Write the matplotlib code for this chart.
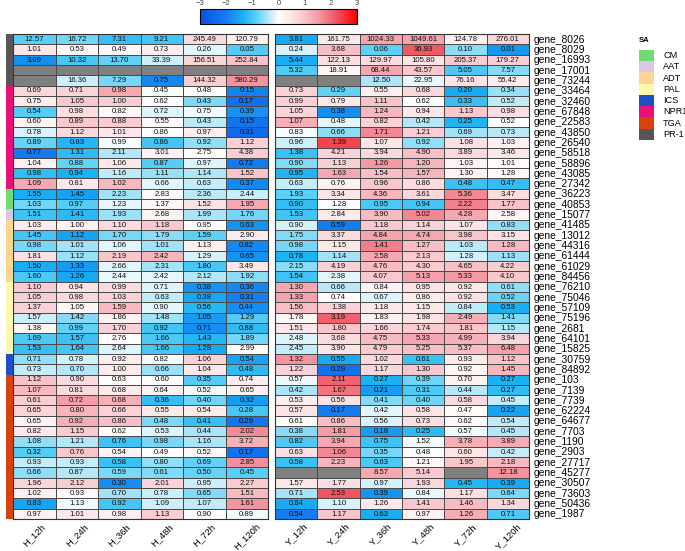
import numpy as np
import matplotlib
matplotlib.use("Agg")
import matplotlib.pyplot as plt
from matplotlib.colors import LinearSegmentedColormap, to_rgb

plt.rcParams['font.family'] = ['Liberation Sans', 'DejaVu Sans']

nan = np.nan
genes = ["gene_8026", "gene_8029", "gene_16993", "gene_17001", "gene_73244",
         "gene_33464", "gene_32460", "gene_67848", "gene_22583", "gene_43850",
         "gene_26540", "gene_58518", "gene_58896", "gene_43085", "gene_27342",
         "gene_36223", "gene_40853", "gene_15077", "gene_41485", "gene_13012",
         "gene_44316", "gene_61444", "gene_61029", "gene_84456", "gene_76210",
         "gene_75046", "gene_57109", "gene_75196", "gene_2681", "gene_64101",
         "gene_15825", "gene_30759", "gene_84892", "gene_103", "gene_7139",
         "gene_7739", "gene_62224", "gene_64677", "gene_7703", "gene_1190",
         "gene_2903", "gene_27717", "gene_45277", "gene_30507", "gene_73603",
         "gene_50436", "gene_1987"]

h_cols = ["H_12h", "H_24h", "H_36h", "H_48h", "H_72h", "H_120h"]
y_cols = ["Y_12h", "Y_24h", "Y_36h", "Y_48h", "Y_72h", "Y_120h"]

h_vals = [
    [12.57, 16.72, 7.31, 9.21, 245.49, 120.79],
    [1.01, 0.53, 0.49, 0.73, 0.26, 0.05],
    [3.09, 10.32, 13.70, 33.39, 156.51, 252.84],
    [nan, nan, nan, nan, nan, nan],
    [nan, 16.36, 7.29, 0.75, 144.32, 580.29],
    [0.69, 0.71, 0.98, 0.45, 0.48, 0.15],
    [0.75, 1.05, 1.00, 0.62, 0.43, 0.17],
    [0.54, 0.98, 0.82, 0.72, 0.75, 0.39],
    [0.60, 0.89, 0.88, 0.55, 0.43, 0.15],
    [0.78, 1.12, 1.01, 0.86, 0.97, 0.31],
    [0.89, 0.83, 0.99, 0.86, 0.92, 1.12],
    [0.77, 1.31, 2.11, 3.01, 2.75, 4.38],
    [1.04, 0.88, 1.06, 0.87, 0.97, 0.72],
    [0.98, 0.94, 1.16, 1.11, 1.14, 1.52],
    [1.09, 0.81, 1.02, 0.66, 0.63, 0.37],
    [1.55, 1.45, 2.23, 2.83, 2.36, 2.44],
    [1.03, 0.97, 1.23, 1.37, 1.52, 1.95],
    [1.51, 1.41, 1.93, 2.68, 1.99, 1.76],
    [1.03, 1.00, 1.10, 1.18, 0.95, 0.63],
    [1.45, 1.12, 1.70, 1.79, 1.59, 2.90],
    [0.98, 1.01, 1.06, 1.01, 1.13, 0.82],
    [1.81, 1.12, 2.19, 2.42, 1.29, 0.65],
    [1.50, 1.33, 2.66, 2.31, 1.80, 3.49],
    [1.60, 1.26, 2.44, 2.42, 2.12, 1.92],
    [1.10, 0.94, 0.99, 0.71, 0.38, 0.36],
    [1.05, 0.98, 1.03, 0.63, 0.38, 0.31],
    [1.37, 1.05, 1.59, 0.90, 0.56, 0.44],
    [1.57, 1.42, 1.86, 1.48, 1.05, 1.29],
    [1.38, 0.99, 1.70, 0.92, 0.71, 0.88],
    [1.69, 1.57, 2.76, 1.66, 1.43, 1.89],
    [1.53, 1.64, 2.64, 1.66, 1.28, 2.99],
    [0.71, 0.78, 0.92, 0.82, 1.06, 0.54],
    [0.73, 0.70, 1.00, 0.66, 1.04, 0.48],
    [1.12, 0.90, 0.63, 0.60, 0.35, 0.74],
    [1.07, 0.81, 0.68, 0.64, 0.52, 0.65],
    [0.61, 0.72, 0.68, 0.36, 0.40, 0.32],
    [0.65, 0.80, 0.66, 0.55, 0.54, 0.28],
    [0.65, 0.92, 0.86, 0.48, 0.41, 0.29],
    [0.82, 1.15, 0.62, 0.53, 0.44, 2.02],
    [1.08, 1.21, 0.76, 0.98, 1.16, 3.72],
    [0.32, 0.76, 0.54, 0.49, 0.52, 0.17],
    [0.93, 0.93, 0.58, 0.80, 0.69, 2.85],
    [0.66, 0.87, 0.59, 0.61, 0.50, 0.45],
    [1.96, 2.12, 0.30, 2.01, 0.95, 2.27],
    [1.02, 0.93, 0.70, 0.78, 0.65, 1.51],
    [0.83, 1.13, 0.92, 1.09, 1.07, 1.61],
    [0.97, 1.01, 0.98, 1.13, 0.90, 0.89],
]

y_vals = [
    [3.81, 161.75, 1024.33, 1049.61, 124.78, 276.01],
    [0.24, 3.68, 0.06, 36.93, 0.10, 0.01],
    [5.44, 122.13, 129.97, 105.80, 205.37, 179.27],
    [5.32, 18.91, 68.44, 43.57, 5.05, 7.57],
    [nan, nan, 12.50, 22.95, 76.16, 55.42],
    [0.73, 0.29, 0.55, 0.68, 0.20, 0.34],
    [0.99, 0.79, 1.11, 0.62, 0.33, 0.52],
    [1.05, 0.38, 1.24, 0.94, 1.13, 0.98],
    [1.07, 0.48, 0.82, 0.42, 0.25, 0.52],
    [0.83, 0.66, 1.71, 1.21, 0.69, 0.73],
    [0.96, 1.39, 1.07, 0.92, 1.08, 1.03],
    [1.38, 4.21, 3.94, 4.90, 3.89, 3.46],
    [0.90, 1.13, 1.26, 1.20, 1.03, 1.01],
    [0.95, 1.63, 1.54, 1.57, 1.30, 1.28],
    [0.63, 0.76, 0.96, 0.86, 0.48, 0.47],
    [1.93, 3.34, 4.36, 3.61, 5.36, 3.47],
    [0.90, 1.28, 0.95, 0.94, 2.22, 1.77],
    [1.53, 2.84, 3.90, 5.02, 4.28, 2.58],
    [0.90, 0.59, 1.18, 1.14, 1.07, 0.83],
    [1.75, 3.37, 4.84, 4.74, 3.98, 3.15],
    [0.98, 1.15, 1.41, 1.27, 1.03, 1.28],
    [0.78, 1.14, 2.58, 2.13, 1.28, 1.13],
    [2.15, 4.19, 4.76, 4.30, 4.65, 4.22],
    [1.54, 2.38, 4.07, 5.13, 5.33, 4.10],
    [1.30, 0.66, 0.84, 0.95, 0.92, 0.61],
    [1.33, 0.74, 0.67, 0.86, 0.92, 0.52],
    [1.56, 1.38, 1.18, 1.15, 0.84, 0.53],
    [1.78, 3.19, 1.83, 1.98, 2.49, 1.41],
    [1.51, 1.80, 1.66, 1.74, 1.81, 1.15],
    [2.48, 3.68, 4.75, 5.33, 4.99, 3.94],
    [2.45, 3.90, 4.79, 5.25, 5.37, 6.48],
    [1.32, 0.55, 1.02, 0.61, 0.93, 1.12],
    [1.22, 0.29, 1.17, 1.30, 0.92, 1.45],
    [0.57, 2.11, 0.27, 0.39, 0.70, 0.27],
    [0.42, 1.67, 0.21, 0.31, 0.44, 0.27],
    [0.53, 0.56, 0.41, 0.40, 0.58, 0.45],
    [0.57, 0.17, 0.42, 0.58, 0.47, 0.22],
    [0.61, 0.86, 0.56, 0.73, 0.62, 0.54],
    [0.38, 1.81, 0.18, 0.25, 0.57, 0.45],
    [0.82, 3.94, 0.75, 1.52, 3.78, 3.89],
    [0.63, 1.06, 0.35, 0.48, 0.60, 0.42],
    [0.58, 2.23, 0.63, 1.21, 1.95, 2.18],
    [nan, nan, 8.57, 5.14, nan, 12.18],
    [1.57, 1.77, 0.97, 1.93, 0.45, 0.39],
    [0.71, 2.53, 0.39, 0.84, 1.17, 0.64],
    [0.84, 1.10, 1.26, 1.41, 1.46, 1.34],
    [0.54, 1.17, 0.63, 0.97, 1.26, 0.71],
]

# gene group (row annotation)
groups = (["PR-1"] * 5 + ["NPR1"] * 10 + ["CM"] * 2 + ["AAT"] * 1 +
          ["ADT"] * 6 + ["PAL"] * 7 + ["ICS"] * 2 + ["TGA"] * 14)
group_names = ["CM", "AAT", "ADT", "PAL", "ICS", "NPR1", "TGA", "PR-1"]
group_colors = {"CM": "#6fdc72", "AAT": "#d8c8e6", "ADT": "#fcd590",
                "PAL": "#fff7b0", "ICS": "#1c4fc9", "NPR1": "#e8117a",
                "TGA": "#d8420f", "PR-1": "#565656"}

H = np.array(h_vals)
Y = np.array(y_vals)
allv = np.hstack([H, Y])

# row scale on log values
lg = np.log(allv)
mu = np.nanmean(lg, axis=1, keepdims=True)
sd = np.nanstd(lg, axis=1, ddof=1, keepdims=True)
Z = (lg - mu) / sd

cmap = LinearSegmentedColormap.from_list("bwr2", [
    (0.0, "#0a4fe8"), (0.17, "#1480f0"), (0.27, "#18b0f4"),
    (0.36, "#5cd0f6"), (0.44, "#b8e8f8"), (0.5, "#ffffff"),
    (0.58, "#fce6e8"), (0.67, "#f8c4ca"), (0.76, "#f497a2"),
    (0.86, "#f05a68"), (1.0, "#ff0000")])
cmap.set_bad("#808080")

W, Hh = 685, 551
fig = plt.figure(figsize=(W / 100, Hh / 100), dpi=100)

def fx(x):
    return x / W

def fy(y):
    return 1 - y / Hh

top, bot = 34, 519
n = len(genes)

def draw_half(x0, x1, vals, zz, labels):
    ax = fig.add_axes([fx(x0), fy(bot), fx(x1 - x0), (bot - top) / Hh])
    zm = np.ma.masked_invalid(zz)
    ax.pcolormesh(zm, cmap=cmap, vmin=-3, vmax=3, edgecolors="#4a4a4a",
                  linewidth=0.5)
    for i in range(vals.shape[0]):
        for j in range(vals.shape[1]):
            v = vals[i, j]
            if not np.isnan(v):
                ax.text(j + 0.5, i + 0.52, f"{v:.2f}", ha="center",
                        va="center", fontsize=5.6, color="#111111")
    ax.set_xlim(0, vals.shape[1])
    ax.set_ylim(n, 0)
    ax.set_yticks([])
    ax.set_xticks(np.arange(vals.shape[1]) + 0.5)
    ax.set_xticklabels(labels, rotation=45, ha="center", va="top",
                       fontsize=6.8)
    ax.tick_params(axis="x", length=0, pad=2)
    for sp in ax.spines.values():
        sp.set_color("#333333")
        sp.set_linewidth(0.8)
    return ax

draw_half(13, 268, H, Z[:, :6], h_cols)
axr = draw_half(275, 529, Y, Z[:, 6:], y_cols)
for i, g in enumerate(genes):
    axr.text(6.12, i + 0.55, g, ha="left", va="center", fontsize=7.4,
             clip_on=False)

# row annotation bar
axa = fig.add_axes([fx(6), fy(bot), fx(7), (bot - top) / Hh])
rgb = np.array([[to_rgb(group_colors[g])] for g in groups])
axa.imshow(rgb, aspect="auto", interpolation="nearest")
axa.axis("off")

# colorbar
cax = fig.add_axes([fx(200), fy(24), fx(157), 15 / Hh])
sm = plt.cm.ScalarMappable(cmap=cmap, norm=plt.Normalize(-3, 3))
cb = fig.colorbar(sm, cax=cax, orientation="horizontal", ticks=range(-3, 4))
cb.outline.set_linewidth(0.8)
cax.xaxis.set_ticks_position("top")
cax.tick_params(length=0, labelsize=5.5, pad=1.5, labelcolor="#444444")

# legend
axl = fig.add_axes([fx(639), fy(140), fx(15), 90 / Hh])
leg_rgb = np.array([[to_rgb(group_colors[g])] for g in group_names])
axl.imshow(leg_rgb, aspect="auto", interpolation="nearest")
axl.axis("off")
for k, g in enumerate(group_names):
    axl.text(1.1, k, g, transform=axl.transData, ha="left", va="center",
             fontsize=6.6, clip_on=False)
fig.text(fx(639), fy(40), "SA", fontsize=5.5, fontweight="bold",
         ha="left", va="center")

fig.savefig("out.png", dpi=100)
